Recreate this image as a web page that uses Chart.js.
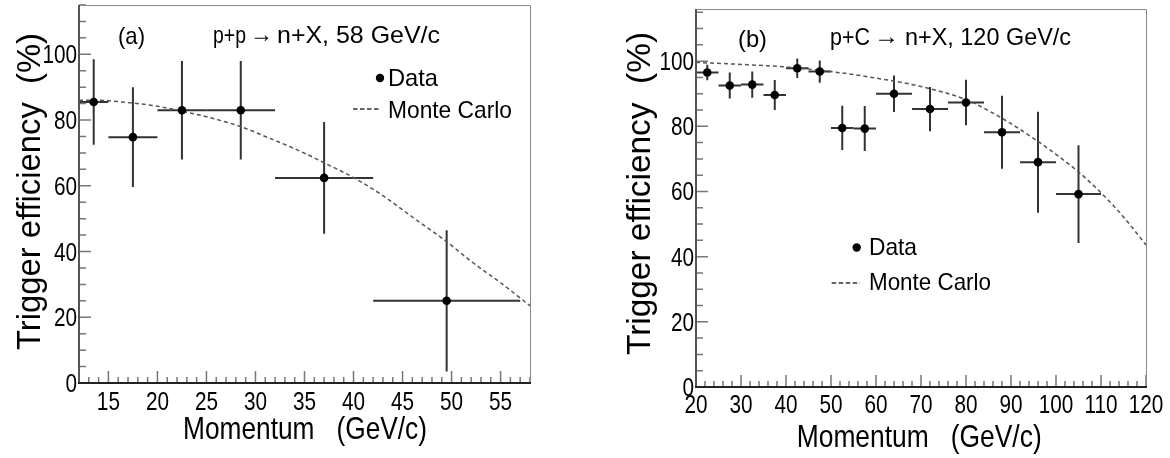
<!DOCTYPE html>
<html>
<head>
<meta charset="utf-8">
<script src="https://cdn.jsdelivr.net/npm/chart.js@4.4.1/dist/chart.umd.min.js"></script>
<style>
  html, body { margin: 0; padding: 0; background: #fff; }
  #wrap { position: relative; width: 1170px; height: 458px; overflow: hidden; }
  .panel { position: absolute; top: 0; width: 585px; height: 458px; }
</style>
</head>
<body>
<div id="wrap">
  <div class="panel" style="left:0"><canvas id="cA" width="585" height="458"></canvas></div>
  <div class="panel" style="left:585px"><canvas id="cB" width="585" height="458"></canvas></div>
</div>
<script>
// ---------- Panel (a): p+p -> n+X, 58 GeV/c ----------
const aMomentum     = [13.5, 17.5, 22.5, 28.5, 37, 49.5];
const aMomentumLow  = [12, 15, 20, 25, 32, 42];
const aMomentumHigh = [15, 20, 25, 32, 42, 57];
const aEfficiency   = [85.5, 74.8, 83, 83, 62.4, 25];
const aEffError     = [13, 15.2, 15, 15, 17, 21.5];
const aMcMomentum   = [12, 14, 17, 20, 22.5, 25, 28.5, 31, 34.5, 37, 40, 43, 46, 49.5, 52, 55, 58];
const aMcEfficiency = [86, 86, 85.3, 84.2, 82.7, 81, 78, 75, 70.6, 67, 62.5, 57, 50.5, 43, 37, 30.5, 23.5];
const aXTicks = [15, 20, 25, 30, 35, 40, 45, 50, 55];

// ---------- Panel (b): p+C -> n+X, 120 GeV/c ----------
const bMomentum     = [22.5, 27.5, 32.5, 37.5, 42.5, 47.5, 52.5, 57.5, 64, 72, 80, 88, 96, 105];
const bMomentumLow  = [20, 25, 30, 35, 40, 45, 50, 55, 60, 68, 76, 84, 92, 100];
const bMomentumHigh = [25, 30, 35, 40, 45, 50, 55, 60, 68, 76, 84, 92, 100, 110];
const bEfficiency   = [96.5, 92.5, 92.8, 89.6, 97.8, 96.8, 79.5, 79.3, 90, 85.3, 87.3, 78.2, 69, 59.2];
const bEffError     = [2.4, 4, 4, 4.6, 3, 3.4, 6.8, 6.9, 5.6, 6.8, 7, 11.2, 15.5, 15];
const bMcMomentum   = [20, 30, 40, 50, 60, 70, 80, 85, 90, 95, 100, 105, 110, 115, 120];
const bMcEfficiency = [99.6, 99, 98.2, 96.8, 94.8, 92.2, 88.2, 84.8, 80.8, 76.3, 71.4, 66, 59.6, 52.2, 43.6];
const bXTicks = [20, 30, 40, 50, 60, 70, 80, 90, 100, 110, 120];

const yTicks = [0, 20, 40, 60, 80, 100];
const yTitle = 'Trigger efficiency  (%)';
const xTitle = 'Momentum   (GeV/c)';
const legendData = 'Data';
const legendMC = 'Monte Carlo';
const arrow = '\u2192';

const FONT = '"Liberation Sans", Arial, sans-serif';
const TICK_SX = 0.83;

function pts(xs, ys) { return xs.map((x, i) => ({ x: x, y: ys[i] })); }

// draw text horizontally squeezed to a target width (left aligned at x)
function fitText(ctx, text, x, y, font, width) {
  ctx.save();
  ctx.font = font;
  const w = ctx.measureText(text).width;
  ctx.translate(x, y);
  ctx.scale(width / w, 1);
  ctx.textAlign = 'left';
  ctx.fillText(text, 0, 0);
  ctx.restore();
}
function squeezeText(ctx, text, x, y, font, sx, align) {
  ctx.save();
  ctx.font = font;
  ctx.translate(x, y);
  ctx.scale(sx, 1);
  ctx.textAlign = align;
  ctx.fillText(text, 0, 0);
  ctx.restore();
}

function buildChart(id, L) {
  const W = 585, H = 458;
  const decor = {
    id: 'decor' + id,
    beforeDatasetsDraw(chart) {
      const ctx = chart.ctx, xs = chart.scales.x, ys = chart.scales.y;
      ctx.save();
      ctx.strokeStyle = '#333';
      ctx.lineWidth = 2;
      for (let i = 0; i < L.mom.length; i++) {
        const cx = xs.getPixelForValue(L.mom[i]);
        const cy = ys.getPixelForValue(L.eff[i]);
        ctx.beginPath();
        ctx.moveTo(xs.getPixelForValue(L.low[i]), cy);
        ctx.lineTo(xs.getPixelForValue(L.high[i]), cy);
        ctx.moveTo(cx, ys.getPixelForValue(L.eff[i] + L.err[i]));
        ctx.lineTo(cx, ys.getPixelForValue(Math.max(0, L.eff[i] - L.err[i])));
        ctx.stroke();
      }
      ctx.restore();
    },
    afterDraw(chart) {
      const ctx = chart.ctx, a = chart.chartArea, xs = chart.scales.x, ys = chart.scales.y;
      ctx.save();
      // inner tick marks
      ctx.strokeStyle = '#777';
      ctx.lineWidth = 1.5;
      ctx.beginPath();
      for (let v = L.xMin; v <= L.xMax + 1e-9; v += L.xMinor) {
        const px = xs.getPixelForValue(v);
        const major = Math.abs(v / L.xMajor - Math.round(v / L.xMajor)) < 1e-6;
        ctx.moveTo(px, a.bottom);
        ctx.lineTo(px, a.bottom - (major ? 12 : 6));
      }
      for (let v = 0; v <= L.yMax + 1e-9; v += 5) {
        const py = ys.getPixelForValue(v);
        const major = v % 20 === 0;
        ctx.moveTo(a.left, py);
        ctx.lineTo(a.left + (major ? 12 : 7), py);
      }
      ctx.stroke();
      // frame
      ctx.strokeStyle = '#888';
      ctx.lineWidth = 1;
      ctx.beginPath();
      ctx.moveTo(a.left, a.top + 0.5); ctx.lineTo(a.right + 0.5, a.top + 0.5); ctx.lineTo(a.right + 0.5, a.bottom);
      ctx.stroke();
      ctx.strokeStyle = '#555';
      ctx.lineWidth = 2;
      ctx.beginPath();
      ctx.moveTo(a.left, a.top); ctx.lineTo(a.left, a.bottom);
      ctx.stroke();
      ctx.strokeStyle = '#222';
      ctx.beginPath();
      ctx.moveTo(a.left - 1, a.bottom); ctx.lineTo(a.right + 1, a.bottom);
      ctx.stroke();

      ctx.fillStyle = '#000';
      ctx.textBaseline = 'alphabetic';
      // tick labels
      const tf = '25px ' + FONT;
      L.xTicks.forEach(v => squeezeText(ctx, String(v), xs.getPixelForValue(v), L.xLabelBase, tf, TICK_SX, 'center'));
      yTicks.forEach(v => squeezeText(ctx, String(v), a.left - 2, ys.getPixelForValue(v) + 9, tf, TICK_SX, 'right'));

      // tag and reaction title
      const f24 = '24px ' + FONT;
      fitText(ctx, L.tag, L.tagX, L.tagY, f24, L.tagW);
      fitText(ctx, L.t1, L.t1X, L.titleY, f24, L.t1W);
      fitText(ctx, arrow, L.arX, L.titleY - 1, '24px ' + FONT, L.arW);
      fitText(ctx, L.t2, L.t2X, L.titleY, f24, L.t2W);

      // legend
      ctx.beginPath();
      ctx.arc(L.dotX, L.dotY, 4.2, 0, Math.PI * 2);
      ctx.fill();
      fitText(ctx, legendData, L.legX, L.legY1, f24, L.dataW);
      fitText(ctx, legendMC, L.legX, L.legY2, f24, L.mcW);
      ctx.strokeStyle = '#333';
      ctx.lineWidth = 1.5;
      ctx.setLineDash([4.5, 2.5]);
      ctx.beginPath();
      ctx.moveTo(L.dashX0, L.dashY); ctx.lineTo(L.dashX1, L.dashY);
      ctx.stroke();
      ctx.setLineDash([]);

      // axis titles
      fitText(ctx, xTitle, L.xtX0, L.xtY, '32px ' + FONT, L.xtW);
      ctx.save();
      ctx.translate(L.ytX, L.ytY0);
      ctx.rotate(-Math.PI / 2);
      fitText(ctx, yTitle, 0, 0, '33px ' + FONT, L.ytW);
      ctx.restore();
      ctx.restore();
    }
  };

  return new Chart(document.getElementById(id), {
    data: {
      datasets: [
        {
          type: 'line', data: pts(L.mcX, L.mcY), borderColor: '#555', borderWidth: 1.5,
          borderDash: [4, 3], pointRadius: 0, tension: 0.4, cubicInterpolationMode: 'monotone', fill: false, order: 2
        },
        {
          type: 'scatter', data: pts(L.mom, L.eff), backgroundColor: '#000', borderColor: '#000',
          pointRadius: 4.3, pointBorderWidth: 0, order: 1
        }
      ]
    },
    options: {
      responsive: false, animation: false, devicePixelRatio: 1,
      layout: { padding: { left: 0, top: L.area.top, right: W - L.area.right, bottom: 0 } },
      plugins: { legend: { display: false }, tooltip: { enabled: false } },
      scales: {
        x: {
          type: 'linear', min: L.xMin, max: L.xMax,
          afterFit(s) { s.height = H - L.area.bottom; },
          ticks: { display: false },
          grid: { display: false, drawTicks: false }, border: { display: false }
        },
        y: {
          type: 'linear', min: 0, max: L.yMax,
          afterFit(s) { s.width = L.area.left; },
          ticks: { display: false },
          grid: { display: false, drawTicks: false }, border: { display: false }
        }
      }
    },
    plugins: [decor]
  });
}

buildChart('cA', {
  area: { left: 79, top: 5, right: 530, bottom: 383 },
  xMin: 12, xMax: 58, yMax: 115, xMinor: 1, xMajor: 5, xTicks: aXTicks, xLabelBase: 410,
  mom: aMomentum, low: aMomentumLow, high: aMomentumHigh, eff: aEfficiency, err: aEffError,
  mcX: aMcMomentum, mcY: aMcEfficiency,
  tag: '(a)', tagX: 118, tagY: 44, tagW: 27,
  t1: 'p+p', t1X: 213, t1W: 33, arX: 250, arW: 23, t2: 'n+X, 58 GeV/c', t2X: 277, t2W: 163, titleY: 43,
  dotX: 380, dotY: 78, legX: 388, legY1: 86, legY2: 118, dataW: 50, mcW: 124,
  dashX0: 353, dashX1: 380, dashY: 109,
  xtX0: 183, xtY: 439, xtW: 244, ytX: 40, ytY0: 350, ytW: 317
});

buildChart('cB', {
  area: { left: 111, top: 9, right: 561, bottom: 387 },
  xMin: 20, xMax: 120, yMax: 116, xMinor: 2, xMajor: 10, xTicks: bXTicks, xLabelBase: 413,
  mom: bMomentum, low: bMomentumLow, high: bMomentumHigh, eff: bEfficiency, err: bEffError,
  mcX: bMcMomentum, mcY: bMcEfficiency,
  tag: '(b)', tagX: 153, tagY: 47, tagW: 29,
  t1: 'p+C', t1X: 245, t1W: 40, arX: 289, arW: 25, t2: 'n+X, 120 GeV/c', t2X: 320, t2W: 166, titleY: 45,
  dotX: 271.7, dotY: 247.5, legX: 284, legY1: 255, legY2: 290, dataW: 48, mcW: 122,
  dashX0: 246.7, dashX1: 275, dashY: 283,
  xtX0: 211.7, xtY: 447, xtW: 245, ytX: 65, ytY0: 355, ytW: 323
});
</script>
</body>
</html>
